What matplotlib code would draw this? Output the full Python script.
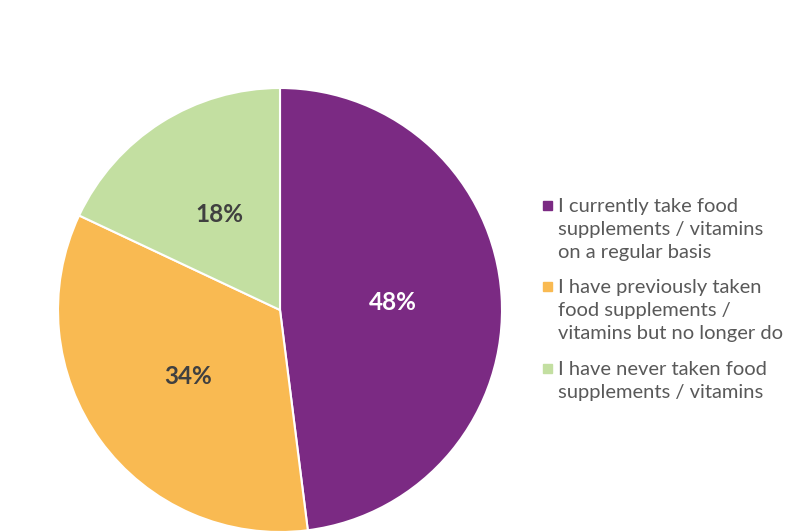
import matplotlib.pyplot as plt
from matplotlib.patches import Rectangle

# Survey answers and shares (%)
labels = [
    "I currently take food\nsupplements / vitamins\non a regular basis",
    "I have previously taken\nfood supplements /\nvitamins but no longer do",
    "I have never taken food\nsupplements / vitamins",
]
shares = [48, 34, 18]
colors = ["#7B2A83", "#F9BA52", "#C3DFA1"]
pct_colors = ["white", "#404040", "#404040"]

W, H = 804, 532
fig = plt.figure(figsize=(W / 100, H / 100), dpi=100)
fig.patch.set_facecolor("white")

# pie centre at (280, 310) px from top-left, radius 222 px
cx, cy, r = 280, 310, 222
ax = fig.add_axes([(cx - r) / W, (H - cy - r) / H, 2 * r / W, 2 * r / H])
wedges, _, autotexts = ax.pie(
    shares, colors=colors, startangle=90, counterclock=False,
    autopct="%d%%", pctdistance=0.51,
    wedgeprops=dict(edgecolor="white", linewidth=1.5),
)
for t, c in zip(autotexts, pct_colors):
    t.set_color(c)
    t.set_fontsize(17.5)
    t.set_fontweight("bold")
    t.set_fontfamily("Lato")
ax.set_xlim(-1, 1)
ax.set_ylim(-1, 1)
ax.axis("off")

# legend drawn by hand so the marker sits on the first line
line_h = 23.5
y = 205
for lab, col in zip(labels, colors):
    fig.patches.append(Rectangle((543 / W, (H - y - 4.5) / H), 9 / W, 9 / H,
                                 transform=fig.transFigure, color=col))
    fig.text(558 / W, (H - y + 7) / H, lab, fontsize=14.5, family="Lato",
             color="#595959", va="top", ha="left", linespacing=1.42)
    y += line_h * (lab.count("\n") + 1) + 11

fig.savefig("out.png", dpi=100, facecolor="white")
